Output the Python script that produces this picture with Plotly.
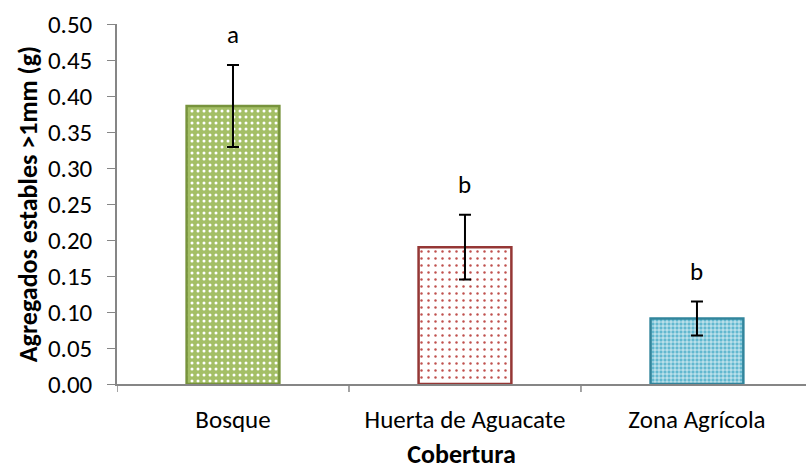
import plotly.graph_objects as go

# Stable aggregates > 1 mm by land cover
categories = ["Bosque", "Huerta de Aguacate", "Zona Agrícola"]
means = [0.386, 0.190, 0.091]
errors = [0.057, 0.045, 0.0235]
letters = ["a", "b", "b"]

fill_bg = ["#a4bf66", "#ffffff", "#62b8cf"]
fill_fg = ["#ffffff", "#c0504d", "#ffffff"]
pattern_shape = [".", ".", "+"]
pattern_size = [6, 7, 4]
pattern_solidity = [0.2, 0.1, 0.3]
edge = ["#77933c", "#953735", "#31859c"]

FONT = "Carlito, Calibri, Lato, sans-serif"

fig = go.Figure()
for i, cat in enumerate(categories):
    fig.add_trace(go.Bar(
        x=[cat], y=[means[i]],
        width=0.40,
        marker=dict(
            color=fill_bg[i],
            line=dict(color=edge[i], width=2.5),
            pattern=dict(shape=pattern_shape[i], fgcolor=fill_fg[i],
                         bgcolor=fill_bg[i], size=pattern_size[i],
                         solidity=pattern_solidity[i], fillmode="replace"),
        ),
        error_y=dict(type="data", array=[errors[i]], visible=True,
                     color="black", thickness=2, width=6),
        showlegend=False,
    ))
    fig.add_annotation(x=cat, y=means[i] + errors[i], text=letters[i],
                       showarrow=False, yanchor="bottom", yshift=13,
                       font=dict(family=FONT, size=25, color="black"))

axis_font = dict(family=FONT, size=25, color="black")
title_font = dict(family=FONT, size=26, color="black")

fig.update_layout(
    width=806, height=470,
    margin=dict(l=117, r=0, t=24, b=86),
    plot_bgcolor="white", paper_bgcolor="white",
    xaxis=dict(
        range=[-0.5, 2.47],
        showline=True, linecolor="#868686", linewidth=1.5,
        ticks="", tickfont=axis_font, ticklabelstandoff=12,
        title=dict(text="<b>Cobertura</b>", font=title_font, standoff=15),
        showgrid=False,
    ),
    yaxis=dict(
        range=[0, 0.5], dtick=0.05, tickformat=".2f",
        showline=True, linecolor="#868686", linewidth=1.5,
        ticks="outside", ticklen=8, tickcolor="#868686",
        tickfont=axis_font, ticklabelstandoff=10,
        showgrid=False, zeroline=False,
        title=dict(text="<b>Agregados estables >1mm (g)</b>", font=title_font, standoff=3),
    ),
)

# category boundary ticks on the x axis
for b in [-0.5, 0.5, 1.5]:
    fig.add_shape(type="line", xref="x", yref="paper", x0=b, x1=b, y0=0, y1=-0.022,
                  line=dict(color="#868686", width=1.5))

fig.write_html("out.html")
